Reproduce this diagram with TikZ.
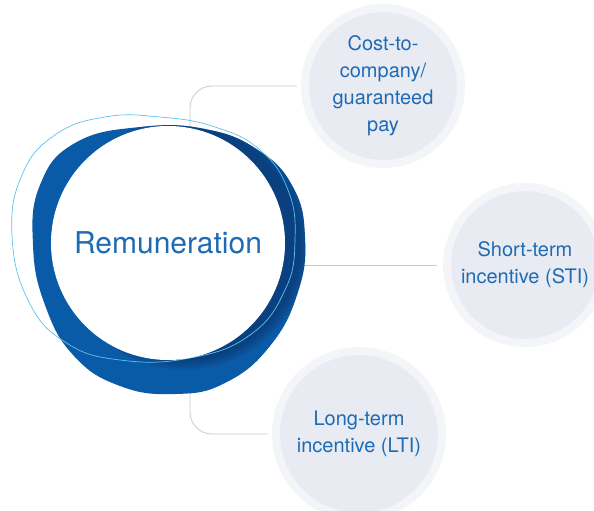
\documentclass[tikz,border=0pt]{standalone}
\usepackage{fontspec}
\setmainfont{TeX Gyre Heros}
\usetikzlibrary{backgrounds}

\definecolor{remblue}{HTML}{0A5BA7}
\definecolor{remnavy}{HTML}{0B2A5C}
\definecolor{remsky}{HTML}{5CC3EE}
\definecolor{remtext}{HTML}{1E6BB5}
\definecolor{satfill}{HTML}{E8EBF2}
\definecolor{satring}{HTML}{F4F5F9}
\definecolor{linkgray}{HTML}{C9C9CB}

\tikzset{
  link/.style={draw=linkgray, line width=0.8pt, rounded corners=22pt},
  hub/.style={circle, fill=white, minimum size=234pt, inner sep=0pt,
    text=remtext, font=\fontsize{30}{36}\selectfont},
  sat/.style={circle, fill=satfill, draw=satring, line width=8pt,
    minimum size=156pt, inner sep=0pt, align=center, text=remtext,
    font=\fontsize{20}{27}\selectfont},
}

\def\blobpath{plot[smooth cycle, tension=0.75] coordinates {(140,127) (205,129) (258,150) (293,187) (305,237) (298,292) (270,346) (225,383) (175,394) (120,386) (74,356) (45,305) (33,245) (40,185) (75,143)}}

\begin{document}
\begin{tikzpicture}[x=1pt,y=-1pt,line cap=round]
  \useasboundingbox (0,0) rectangle (594,511);

  % the three parts
  \node[sat] (ctc) at (383,86) {Cost-to-\\company/\\guaranteed\\pay};
  \node[sat] (sti) at (525,265) {Short-term\\incentive (STI)};
  \node[sat, minimum size=166pt] (lti) at (359,434) {Long-term\\incentive (LTI)};

  % blob behind the hub
  \fill[remblue] \blobpath;
  \begin{scope}
    \clip \blobpath;
    \foreach \r in {116,118,...,126}
      \fill[remnavy, opacity=0.11] (184,244) circle (\r pt);
  \end{scope}
  \draw[remsky, line width=0.7pt] plot[smooth cycle, tension=0.75] coordinates {(12,235) (22,175) (55,135) (105,117) (160,117) (215,127) (260,150) (288,190) (295,240) (285,290) (250,335) (190,358) (120,360) (65,342) (28,300)};

  \node[hub] (remun) at (168,243) {Remuneration};

  % connectors
  \coordinate (spine) at (190,250);
  \begin{pgfonlayer}{background}
    \draw[link, shorten <=4pt, shorten >=4pt] (ctc.west) -| (spine) |- (lti.west);
    \draw[link, shorten >=6pt] (remun.center |- sti) -- (sti.west);
  \end{pgfonlayer}
\end{tikzpicture}
\end{document}
